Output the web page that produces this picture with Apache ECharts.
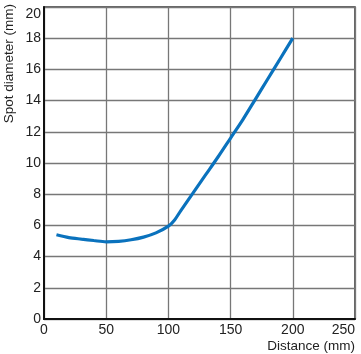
<!DOCTYPE html>
<html>
<head>
<meta charset="utf-8">
<script src="https://cdn.jsdelivr.net/npm/echarts@6/dist/echarts.min.js"></script>
<style>html,body{margin:0;padding:0;background:#fff}#c{width:361px;height:354px}</style>
</head>
<body>
<div id="c"></div>
<script>
var distances = [10, 20, 30, 40, 50, 60, 70, 80, 90, 100, 105, 110, 120, 130, 140, 150, 160, 170, 180, 190, 200];
var spotDiameter = [5.4, 5.22, 5.12, 5.03, 4.95, 4.98, 5.08, 5.25, 5.52, 5.95, 6.35, 6.95, 8.1, 9.25, 10.4, 11.6, 12.8, 14.1, 15.4, 16.7, 18.0];
var xTicks = [0, 50, 100, 150, 200, 250];
var yTicks = [0, 2, 4, 6, 8, 10, 12, 14, 16, 18, 20];
var xName = 'Distance (mm)';
var yName = 'Spot diameter (mm)';

var font = 'Liberation Sans, Arial, Helvetica, sans-serif';
var chart = echarts.init(document.getElementById('c'));
chart.setOption({
  animation: false,
  grid: {left: 44, right: 6, top: 7, bottom: 35, outerBoundsMode: 'none', containLabel: false, show: true, borderColor: '#333', borderWidth: 1.5, backgroundColor: 'transparent'},
  graphic: [{
    type: 'text', x: 9, y: 4, rotation: Math.PI / 2,
    style: {text: yName, fill: '#222', font: '13.5px ' + font, textAlign: 'right', textVerticalAlign: 'middle'}
  }],
  xAxis: {
    type: 'value', min: xTicks[0], max: xTicks[xTicks.length - 1], interval: 50,
    name: xName, nameLocation: 'end', nameGap: 0,
    nameTextStyle: {color: '#222', fontFamily: font, fontSize: 13.5, align: 'right', verticalAlign: 'top', padding: [20, 0, 0, 0]},
    axisLine: {lineStyle: {color: '#111', width: 2}},
    axisTick: {show: false},
    axisLabel: {color: '#222', fontFamily: font, fontSize: 14, margin: 4, alignMaxLabel: 'right'},
    splitLine: {lineStyle: {color: '#777', width: 1.3}}
  },
  yAxis: {
    type: 'value', min: yTicks[0], max: yTicks[yTicks.length - 1], interval: 2,
    axisLine: {show: true, lineStyle: {color: '#111', width: 2}},
    axisTick: {show: false},
    axisLabel: {color: '#222', fontFamily: font, fontSize: 14, margin: 3, verticalAlignMaxLabel: 'top'},
    splitLine: {lineStyle: {color: '#777', width: 1.3}}
  },
  series: [{
    type: 'line', smooth: 0.3, symbol: 'none',
    data: distances.map(function (d, i) { return [d, spotDiameter[i]]; }),
    lineStyle: {color: '#0a72bd', width: 3.2}
  }]
});
</script>
</body>
</html>
